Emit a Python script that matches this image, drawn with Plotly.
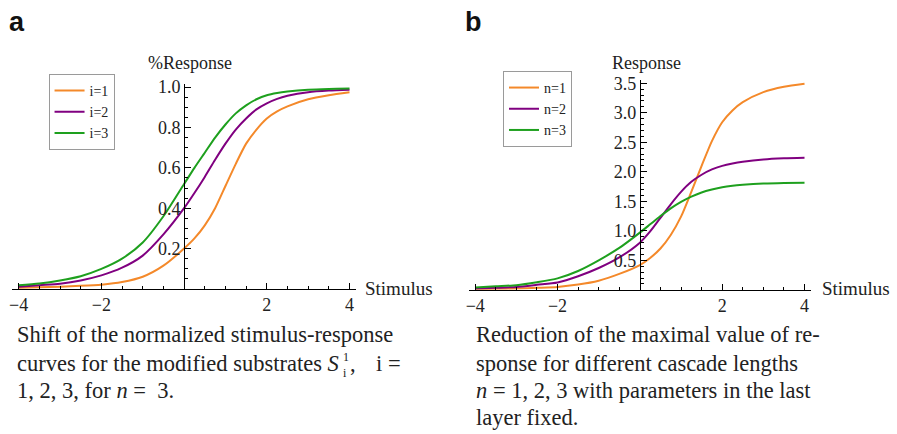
import numpy as np
import plotly.graph_objects as go

# ---------------- data ----------------
stimulus = [-4, -3.5, -3, -2.5, -2, -1.5, -1, -0.5, 0, 0.25, 0.5, 0.75, 1, 1.25, 1.5, 1.75, 2, 2.25, 2.5, 3, 3.5, 4]

# panel a: normalized response for i = 1, 2, 3
resp_i1 = [0.005, 0.008, 0.011, 0.015, 0.021, 0.034, 0.06, 0.115, 0.20, 0.25, 0.315, 0.40, 0.51, 0.62, 0.72, 0.79, 0.845, 0.88, 0.905, 0.94, 0.96, 0.975]
resp_i2 = [0.010, 0.018, 0.026, 0.042, 0.067, 0.105, 0.165, 0.27, 0.40, 0.475, 0.555, 0.64, 0.72, 0.79, 0.845, 0.89, 0.92, 0.942, 0.957, 0.975, 0.983, 0.987]
resp_i3 = [0.018, 0.027, 0.042, 0.063, 0.099, 0.15, 0.23, 0.36, 0.52, 0.60, 0.675, 0.75, 0.815, 0.87, 0.91, 0.94, 0.96, 0.971, 0.978, 0.987, 0.991, 0.993]

# panel b: response for cascade length n = 1, 2, 3
resp_n1 = [0.01, 0.017, 0.023, 0.035, 0.05, 0.09, 0.155, 0.27, 0.42, 0.54, 0.70, 0.93, 1.24, 1.66, 2.10, 2.52, 2.84, 3.04, 3.18, 3.35, 3.44, 3.49]
resp_n2 = [0.023, 0.035, 0.05, 0.086, 0.125, 0.23, 0.37, 0.55, 0.80, 0.99, 1.22, 1.45, 1.66, 1.83, 1.95, 2.04, 2.10, 2.14, 2.17, 2.21, 2.23, 2.24]
resp_n3 = [0.04, 0.06, 0.08, 0.13, 0.195, 0.32, 0.50, 0.71, 0.97, 1.11, 1.25, 1.38, 1.49, 1.58, 1.65, 1.70, 1.74, 1.765, 1.78, 1.80, 1.81, 1.815]

names_a = ["i=1", "i=2", "i=3"]
names_b = ["n=1", "n=2", "n=3"]
colors = ["#F4892A", "#800080", "#1EA01E"]

x_ticks = [-4, -2, 2, 4]
x_ticktext = ["\u22124", "\u22122", "2", "4"]
ya_ticks = [0.2, 0.4, 0.6, 0.8, 1.0]
yb_ticks = [0.5, 1.0, 1.5, 2.0, 2.5, 3.0, 3.5]

# ---------------- figure ----------------
W, H = 897, 434
SERIF = "Liberation Serif, Times New Roman, serif"
TXT = "#222222"

fig = go.Figure()
for ys, nm, c in zip([resp_i1, resp_i2, resp_i3], names_a, colors):
    fig.add_trace(go.Scatter(x=stimulus, y=ys, name=nm, mode="lines",
                             line=dict(color=c, width=2, shape="spline", smoothing=0.7),
                             xaxis="x", yaxis="y", legend="legend"))
for ys, nm, c in zip([resp_n1, resp_n2, resp_n3], names_b, colors):
    fig.add_trace(go.Scatter(x=stimulus, y=ys, name=nm, mode="lines",
                             line=dict(color=c, width=2, shape="spline", smoothing=0.7),
                             xaxis="x2", yaxis="y2", legend="legend2"))

def px_x(p):
    return p / W

def px_y(p):
    return 1 - p / H

xr = [-4.15, 4.15]
minor_x = [v for v in np.arange(-4, 4.01, 0.5) if abs(v) > 1e-9 and v not in x_ticks]

axis_common = dict(showgrid=False, zeroline=False, showline=True, linecolor="black",
                   linewidth=1, ticks="inside", ticklen=6, tickcolor="black",
                   tickfont=dict(family=SERIF, size=18, color=TXT))

fig.update_layout(
    xaxis=dict(range=xr, domain=[px_x(9.5), px_x(353.9)], anchor="y",
               tickmode="array", tickvals=x_ticks, ticktext=x_ticktext,
               minor=dict(tickmode="array", tickvals=minor_x, ticks="inside", ticklen=3, tickcolor="black"),
               **axis_common),
    yaxis=dict(range=[0, 1.015], domain=[px_y(286.5), px_y(78.4)], anchor="free",
               position=px_x(181.7), side="left",
               tickmode="array", tickvals=ya_ticks, ticktext=["0.2", "0.4", "0.6", "0.8", "1.0"],
               minor=dict(tickmode="array",
                          tickvals=[v for v in np.arange(0.05, 1.01, 0.05) if min(abs(v - t) for t in ya_ticks) > 1e-6],
                          ticks="inside", ticklen=3, tickcolor="black"),
               **axis_common),
    xaxis2=dict(range=xr, domain=[px_x(467.6), px_x(810.4)], anchor="y2",
                tickmode="array", tickvals=x_ticks, ticktext=x_ticktext,
                minor=dict(tickmode="array", tickvals=minor_x, ticks="inside", ticklen=3, tickcolor="black"),
                **axis_common),
    yaxis2=dict(range=[0, 3.56], domain=[px_y(287.5), px_y(73.9)], anchor="free",
                position=px_x(639), side="left",
                tickmode="array", tickvals=yb_ticks, ticktext=["0.5", "1.0", "1.5", "2.0", "2.5", "3.0", "3.5"],
                minor=dict(tickmode="array",
                           tickvals=[v for v in np.arange(0.1, 3.51, 0.1) if min(abs(v - t) for t in yb_ticks) > 1e-6],
                           ticks="inside", ticklen=3, tickcolor="black"),
                **axis_common),
)

legend_common = dict(bgcolor="white", bordercolor="#9a9a9a", borderwidth=1,
                     font=dict(family=SERIF, size=14, color=TXT),
                     xanchor="left", yanchor="top", itemwidth=30, tracegroupgap=0)
fig.update_layout(
    legend=dict(x=px_x(45.7), y=px_y(68), **legend_common),
    legend2=dict(x=px_x(501.7), y=px_y(65), **legend_common),
)

ann = []
def text(x, y, s, size=19, xanchor="left", family=SERIF, color=TXT):
    ann.append(dict(x=px_x(x), y=px_y(y), xref="paper", yref="paper", text=s, showarrow=False,
                    xanchor=xanchor, yanchor="middle", borderpad=0,
                    font=dict(family=family, size=size, color=color)))

# panel labels
text(14, 15, "<b>a</b>", size=27, xanchor="center", family="Liberation Sans, Arial, sans-serif", color="#111111")
text(472, 15, "<b>b</b>", size=27, xanchor="center", family="Liberation Sans, Arial, sans-serif", color="#111111")
# axis labels
text(188, 57, "%Response", size=18, xanchor="center")
text(646, 57, "Response", size=18, xanchor="center")
text(362, 286, "Stimulus", size=19)
text(821, 286, "Stimulus", size=19)

# captions
CS = 22.5
text(13, 333, "Shift of the normalized stimulus-response", size=CS)
text(13, 362, "curves for the modified substrates <i>S</i>", size=CS)
text(340, 356, "1", size=12)
text(340, 372, "i", size=12)
text(347, 362, ",", size=CS)
text(373, 362, "i =", size=CS)
text(13, 390, "1, 2, 3, for <i>n</i> =  3.", size=CS)

text(474, 333, "Reduction of the maximal value of re-", size=CS)
text(474, 362, "sponse for different cascade lengths", size=CS)
text(474, 390, "<i>n</i> = 1, 2, 3 with parameters in the last", size=CS)
text(474, 417, "layer fixed.", size=CS)

fig.update_layout(annotations=ann, width=W, height=H, margin=dict(l=0, r=0, t=0, b=0),
                  paper_bgcolor="white", plot_bgcolor="white", showlegend=True)

fig.write_html("out.html")
